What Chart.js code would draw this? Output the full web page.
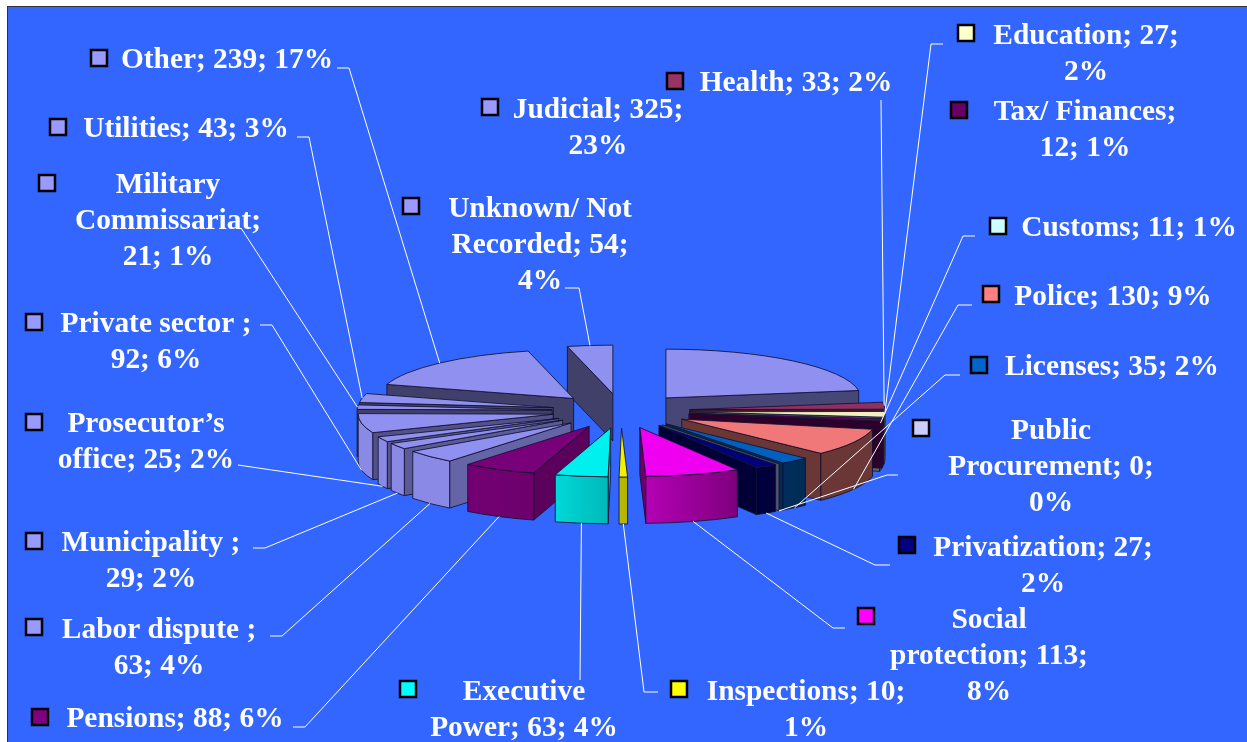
<!DOCTYPE html>
<html>
<head>
<meta charset="utf-8">
<title>Complaints by sector</title>
<script src="https://cdn.jsdelivr.net/npm/chart.js@4"></script>
<style>
    html, body { margin: 0; padding: 0; background: #fff; overflow: hidden; }
    #wrap { position: absolute; left: 0; top: 0; width: 1247px; height: 742px; }
</style>
</head>
<body>
<div id="wrap"><canvas id="pieChart" width="1247" height="742"></canvas></div>
<script>
// Chart data, clockwise from 12 o'clock
const categories = ['Judicial', 'Health', 'Education', 'Tax/ Finances', 'Customs', 'Police', 'Licenses',
    'Public Procurement', 'Privatization', 'Social protection', 'Inspections', 'Executive Power', 'Pensions',
    'Labor dispute', 'Municipality', 'Prosecutor\u2019s office', 'Private sector', 'Military Commissariat',
    'Utilities', 'Other', 'Unknown/ Not Recorded'];
const values = [325, 33, 27, 12, 11, 130, 35, 0, 27, 113, 10, 63, 88, 63, 29, 25, 92, 21, 43, 239, 54];
const labelLines = [
    ['Judicial; 325;', '23%'], ['Health; 33; 2%'], ['Education; 27;', '2%'], ['Tax/ Finances;', '12; 1%'],
    ['Customs; 11; 1%'], ['Police; 130; 9%'], ['Licenses; 35; 2%'], ['Public', 'Procurement; 0;', '0%'],
    ['Privatization; 27;', '2%'], ['Social', 'protection; 113;', '8%'], ['Inspections; 10;', '1%'],
    ['Executive', 'Power; 63; 4%'], ['Pensions; 88; 6%'], ['Labor dispute ;', '63; 4%'],
    ['Municipality ;', '29; 2%'], ['Prosecutor\u2019s', 'office; 25; 2%'], ['Private sector ;', '92; 6%'],
    ['Military', 'Commissariat;', '21; 1%'], ['Utilities; 43; 3%'], ['Other; 239; 17%'],
    ['Unknown/ Not', 'Recorded; 54;', '4%']
];
const colors = ['#9999FF', '#993366', '#FFFFCC', '#660066', '#CCFFFF', '#FF8080', '#0066CC', '#CCCCFF', '#000080',
    '#FF00FF', '#FFFF00', '#00FFFF', '#800080', '#9999FF', '#9999FF', '#9999FF', '#9999FF', '#9999FF', '#9999FF',
    '#9999FF', '#9999FF'];

// Label layout: text centre x, first baseline y, marker left/top
const labelX = [598, 796, 1086, 1085, 1129, 1113, 1112, 1051, 1043, 989, 806, 524, 175, 159, 151, 146, 156, 168, 186, 227, 540];
const labelY = [118, 91, 44, 120, 236, 305, 375, 439, 556, 628, 700, 700, 727, 638, 551, 432, 332, 193, 137, 68, 217];
const markerX = [481, 666, 957, 950, 989, 982, 970, 912, 898, 857, 670, 399, 31, 25, 25, 25, 25, 38, 49, 90, 402];
const markerY = [98, 72, 24, 101, 217, 285, 356, 419, 536, 607, 680, 680, 708, 618, 532, 413, 313, 174, 118, 49, 197];

// Leader lines: label-side points only, the slice end comes from the arc. null = no leader
const leaders = [null, [[881, 100]], [[943, 44], [931, 44]], null, [[975, 236], [963, 236]], [[972, 305], [958, 305]],
    [[960, 375], [945, 375]], [[898, 475], [887, 475]], [[890, 565], [875, 565]], [[845, 628], [833, 628]],
    [[658, 692], [644, 692]], [[580, 680]], [[293, 727], [305, 727]], [[270, 636], [282, 636]], [[253, 548], [265, 548]],
    [[238, 465]], [[260, 325], [272, 325]], [[241, 228]], [[297, 137], [309, 137]], [[337, 68], [349, 68]],
    [[565, 288], [579, 288]]];

const squash = 0.25;    // pie tilt
const explode = 69;     // how far slices are pulled out
const depth = 47;       // height of the slices
const edgeColor = 'rgba(18, 18, 48, 0.85)';

function shade(hex, f) {
    const n = parseInt(hex.slice(1), 16);
    const c = [n >> 16, (n >> 8) & 255, n & 255].map(v => Math.round(v * f));
    return 'rgb(' + c.join(',') + ')';
}

// Brightness of the curved outer wall, light comes from the left
function outerLight(a) {
    return Math.min(0.9, Math.max(0.42, 0.72 - 0.45 * Math.cos(a)));
}

function sliceOrigin(arc) {
    const mid = (arc.startAngle + arc.endAngle) / 2;
    return {
        x: arc.x + Math.cos(mid) * explode,
        y: arc.y + Math.sin(mid) * explode * squash
    };
}

function drawRadialWall(ctx, o, arc, a, color) {
    const px = o.x + Math.cos(a) * arc.outerRadius;
    const py = o.y + Math.sin(a) * arc.outerRadius * squash;
    ctx.beginPath();
    ctx.moveTo(o.x, o.y);
    ctx.lineTo(px, py);
    ctx.lineTo(px, py + depth);
    ctx.lineTo(o.x, o.y + depth);
    ctx.closePath();
    ctx.fillStyle = color;
    ctx.fill();
    ctx.stroke();
}

function drawSlice(ctx, arc, color) {
    const o = sliceOrigin(arc);
    const r = arc.outerRadius;
    const a0 = arc.startAngle, a1 = arc.endAngle;
    ctx.lineWidth = 1;
    ctx.strokeStyle = edgeColor;

    // side walls facing the viewer
    if (-Math.cos(a0) > 0) {
        const nx = Math.cos(a0 - Math.PI / 2);
        drawRadialWall(ctx, o, arc, a0, shade(color, 0.42 + 0.3 * Math.max(0, nx)));
    }
    if (Math.cos(a1) > 0) {
        const nx = Math.cos(a1 + Math.PI / 2);
        drawRadialWall(ctx, o, arc, a1, shade(color, 0.42 + 0.3 * Math.max(0, nx)));
    }

    // curved wall, front half only
    const lo = Math.max(a0, 0), hi = Math.min(a1, Math.PI);
    if (hi > lo) {
        const x0 = o.x + Math.cos(lo) * r, x1 = o.x + Math.cos(hi) * r;
        const grad = ctx.createLinearGradient(x0, 0, x1, 0);
        grad.addColorStop(0, shade(color, outerLight(lo)));
        grad.addColorStop(1, shade(color, outerLight(hi)));
        ctx.beginPath();
        ctx.ellipse(o.x, o.y, r, r * squash, 0, lo, hi);
        ctx.ellipse(o.x, o.y + depth, r, r * squash, 0, hi, lo, true);
        ctx.closePath();
        ctx.fillStyle = grad;
        ctx.fill();
        ctx.stroke();
    }

    // top face is the library's own arc, flattened
    if (a1 > a0) {
        ctx.save();
        ctx.translate(o.x, o.y);
        ctx.scale(1, squash);
        ctx.translate(-arc.x, -arc.y);
        arc.draw(ctx);
        ctx.restore();
        ctx.beginPath();
        ctx.moveTo(o.x, o.y);
        ctx.ellipse(o.x, o.y, r, r * squash, 0, a0, a1);
        ctx.closePath();
        ctx.stroke();
    }
}

const tiltedPie = {
    id: 'tiltedPie',
    beforeDraw(chart) {
        const ctx = chart.ctx;
        ctx.save();
        ctx.fillStyle = '#fff';
        ctx.fillRect(0, 0, chart.width, chart.height);
        ctx.fillStyle = '#3366FF';
        ctx.fillRect(8, 7, chart.width - 8, chart.height - 7);
        ctx.strokeStyle = '#333';
        ctx.lineWidth = 1;
        ctx.strokeRect(7.5, 6.5, chart.width, chart.height);
        ctx.restore();
    },
    beforeDatasetsDraw(chart) {
        const ctx = chart.ctx;
        const arcs = chart.getDatasetMeta(0).data;
        // paint back to front
        const order = arcs.map((arc, i) => i).sort((a, b) => {
            const ma = (arcs[a].startAngle + arcs[a].endAngle) / 2;
            const mb = (arcs[b].startAngle + arcs[b].endAngle) / 2;
            return Math.sin(ma) - Math.sin(mb);
        });
        // the Tax wall sits in front of Customs in the original
        const tax = order.indexOf(categories.indexOf('Tax/ Finances'));
        const customs = order.indexOf(categories.indexOf('Customs'));
        [order[tax], order[customs]] = [order[customs], order[tax]];
        ctx.save();
        order.forEach(i => drawSlice(ctx, arcs[i], colors[i]));
        ctx.restore();
        return false;
    },
    afterDraw(chart) {
        const ctx = chart.ctx;
        const arcs = chart.getDatasetMeta(0).data;
        ctx.save();

        // leader lines
        ctx.strokeStyle = '#fff';
        ctx.lineWidth = 1;
        leaders.forEach((pts, i) => {
            if (!pts) return;
            const arc = arcs[i];
            const mid = (arc.startAngle + arc.endAngle) / 2;
            const o = sliceOrigin(arc);
            const s = Math.sin(mid), c = Math.cos(mid);
            const onBase = s > 0.25 || (c < 0 && s > 0);
            ctx.beginPath();
            pts.forEach((p, j) => j ? ctx.lineTo(p[0], p[1]) : ctx.moveTo(p[0], p[1]));
            ctx.lineTo(o.x + c * arc.outerRadius, o.y + s * arc.outerRadius * squash + (onBase ? depth : 0));
            ctx.stroke();
        });

        // markers and labels
        ctx.font = 'bold 29.4px "Liberation Serif"';
        ctx.textAlign = 'center';
        ctx.textBaseline = 'alphabetic';
        labelLines.forEach((lines, i) => {
            ctx.fillStyle = colors[i];
            ctx.fillRect(markerX[i] + 1, markerY[i] + 1, 16, 16);
            ctx.strokeStyle = '#000';
            ctx.lineWidth = 2.5;
            ctx.strokeRect(markerX[i] + 1, markerY[i] + 1, 16, 16);
            ctx.fillStyle = '#fff';
            lines.forEach((line, j) => ctx.fillText(line, labelX[i], labelY[i] + j * 36));
        });
        ctx.restore();
    }
};

document.addEventListener('DOMContentLoaded', function() {
    new Chart(document.getElementById('pieChart'), {
        type: 'pie',
        data: {
            labels: categories,
            datasets: [{
                data: values,
                backgroundColor: colors.map(c => shade(c, 0.94)),
                borderWidth: 0
            }]
        },
        options: {
            responsive: false,
            animation: false,
            radius: 195,
            layout: { padding: { left: 0, right: 5, top: 80, bottom: 0 } },
            plugins: { legend: { display: false }, tooltip: { enabled: false } }
        },
        plugins: [tiltedPie]
    });
});
</script>
</body>
</html>
